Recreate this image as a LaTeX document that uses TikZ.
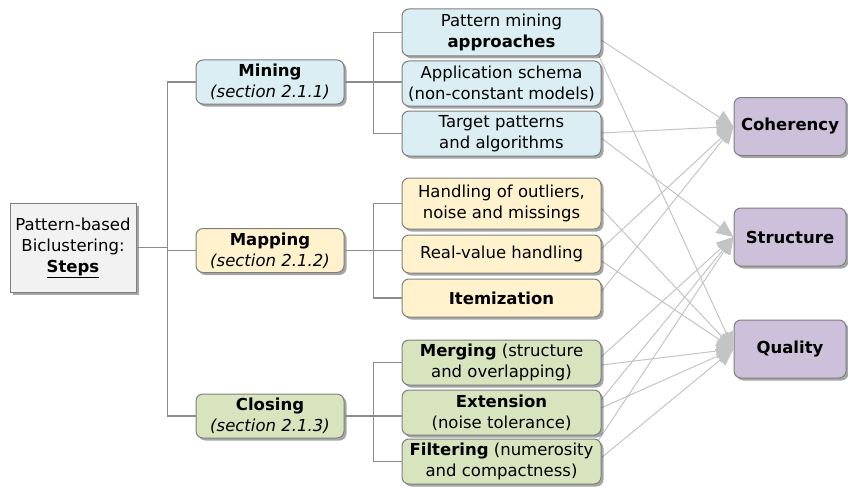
\documentclass[tikz,border=0pt]{standalone}
\usepackage{fontspec}
\setmainfont{DejaVu Sans}
\usetikzlibrary{shadows,arrows.meta}
\definecolor{bluef}{HTML}{DAEEF3}
\definecolor{yelf}{HTML}{FFF2CC}
\definecolor{grnf}{HTML}{D7E4BD}
\definecolor{purf}{HTML}{CCC0DA}
\definecolor{rootf}{HTML}{F2F2F2}
\definecolor{bord}{HTML}{7F7F7F}
\definecolor{edgec}{HTML}{C4C4C4}
\definecolor{treec}{HTML}{8C8C8C}
\tikzset{
  box/.style={draw=bord, line width=1pt, rounded corners=7pt, inner sep=0pt, align=center,
    font=\fontsize{16.5}{21}\selectfont,
    drop shadow={shadow xshift=2.5pt, shadow yshift=-2.5pt, fill=black, opacity=0.35}},
  leaf/.style={box, minimum width=199pt},
  midbox/.style={box, minimum width=148pt, minimum height=44pt},
  target/.style={box, fill=purf, minimum width=112pt, minimum height=58pt, font=\fontsize{16.5}{21}\selectfont\bfseries},
  tree/.style={draw=treec, line width=1.3pt},
  link/.style={draw=edgec, line width=1pt, -{Triangle[length=17pt, width=15pt]}},
}
\begin{document}
\begin{tikzpicture}[x=1pt, y=-1pt]
\useasboundingbox (0,0) rectangle (848,487);
% targets (drawn first so their anchors exist)
\node[target] (coh) at (790,126.5) {Coherency};
\node[target] (str) at (790,237) {Structure};
\node[target] (qua) at (790,349) {Quality};
% link start points on the right edges of the leaves
\coordinate (L1a) at (601,40);
\coordinate (L1b) at (598,54);
\coordinate (L3a) at (601,133);
\coordinate (L3b) at (601,138);
\coordinate (M1a) at (600,207);
\coordinate (M2a) at (600,250);
\coordinate (M2b) at (600,260);
\coordinate (M3a) at (600,293);
\coordinate (C1a) at (601,357);
\coordinate (C1b) at (601,365);
\coordinate (C2a) at (601,400);
\coordinate (C2b) at (601,408);
\coordinate (C3a) at (598,441);
\coordinate (C3b) at (601,458);
% links
\draw[link] (L1a) -- (coh.west);
\draw[link] (L3a) -- (coh.west);
\draw[link] (M2a) -- (coh.west);
\draw[link] (M3a) -- (coh.west);
\draw[link] (L3b) -- (str.west);
\draw[link] (C1a) -- (str.west);
\draw[link] (C2a) -- (str.west);
\draw[link] (C3a) -- (str.west);
\draw[link] (L1b) -- (qua.west);
\draw[link] (M1a) -- (qua.west);
\draw[link] (M2b) -- (qua.west);
\draw[link] (C1b) -- (qua.west);
\draw[link] (C2b) -- (qua.west);
\draw[link] (C3b) -- (qua.west);
% root
\node[box, rounded corners=0pt, fill=rootf, minimum width=126pt, minimum height=89pt] (root) at (73,247.5)
  {Pattern-based\\Biclustering:\\\underline{\textbf{Steps}}};
% mid
\node[midbox, fill=bluef] (mining) at (270,82) {\textbf{Mining}\\\textit{(section 2.1.1)}};
\node[midbox, fill=yelf] (mapping) at (270,250.5) {\textbf{Mapping}\\\textit{(section 2.1.2)}};
\node[midbox, fill=grnf] (closing) at (270,416) {\textbf{Closing}\\\textit{(section 2.1.3)}};
% leaves
\node[leaf, fill=bluef, minimum height=47pt] (L1) at (501.5,32.5) {Pattern mining\\\textbf{approaches}};
\node[leaf, fill=bluef, minimum height=45pt] (L2) at (501.5,83.5) {Application schema\\(non-constant models)};
\node[leaf, fill=bluef, minimum height=45pt] (L3) at (501.5,133.5) {Target patterns\\and algorithms};
\node[leaf, fill=yelf, minimum height=51pt] (M1) at (501.5,203.5) {Handling of outliers,\\noise and missings};
\node[leaf, fill=yelf, minimum height=38pt] (M2) at (501.5,254) {Real-value handling};
\node[leaf, fill=yelf, minimum height=38pt] (M3) at (501.5,298) {\textbf{Itemization}};
\node[leaf, fill=grnf, minimum height=45pt] (C1) at (501.5,362.5) {\textbf{Merging} (structure\\and overlapping)};
\node[leaf, fill=grnf, minimum height=45pt] (C2) at (501.5,412.5) {\textbf{Extension}\\(noise tolerance)};
\node[leaf, fill=grnf, minimum height=45pt] (C3) at (501.5,461.5) {\textbf{Filtering} (numerosity\\and compactness)};
% tree
\draw[tree] (root.east) -- ++(31,0) coordinate (t);
\draw[tree] (mining.west) -| (t);
\draw[tree] (closing.west) -| (t);
\draw[tree] (mapping.west) -- (mapping.west -| t);
\draw[tree] (mining.east) -- ++(29,0) coordinate (bm) |- (L1.west);
\draw[tree] (bm) |- (L3.west);
\draw[tree] (bm) -- (L2.west |- bm);
\draw[tree] (mapping.east) -- ++(29,0) coordinate (bp) |- (M1.west);
\draw[tree] (bp) |- (M3.west);
\draw[tree] (bp) -- (M2.west |- bp);
\draw[tree] (closing.east) -- ++(29,0) coordinate (bc) |- (C1.west);
\draw[tree] (bc) |- (C3.west);
\draw[tree] (bc) -- (C2.west |- bc);
\end{tikzpicture}
\end{document}
